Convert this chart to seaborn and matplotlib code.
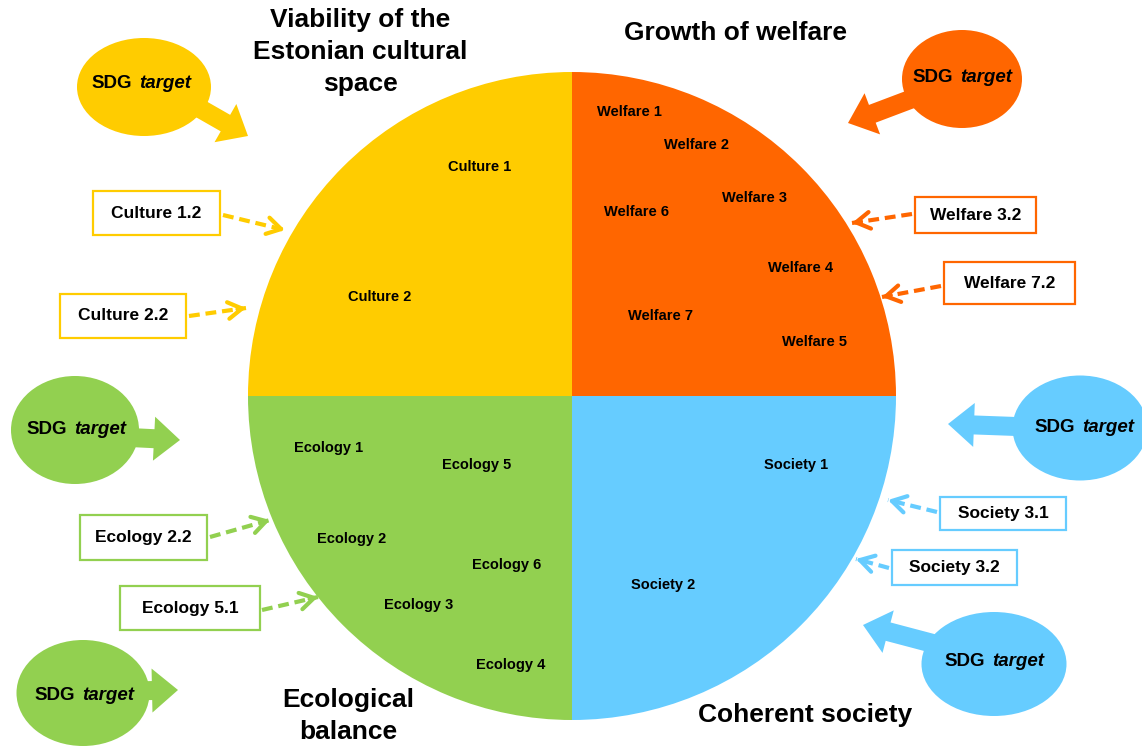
import matplotlib
matplotlib.use("Agg")
import matplotlib.pyplot as plt
import seaborn as sns
from matplotlib.patches import Ellipse, Rectangle

# ---------------- data ----------------
W, H = 1142, 749

quadrants = ["Culture", "Welfare", "Society", "Ecology"]
quadrant_share = [1, 1, 1, 1]
quadrant_colors = ["#FFCC00", "#FF6600", "#66CCFF", "#92D050"]

titles = ["Viability of the\nEstonian cultural\nspace", "Growth of welfare",
          "Coherent society", "Ecological\nbalance"]

culture_items = ["Culture 1", "Culture 2"]
welfare_items = ["Welfare 1", "Welfare 2", "Welfare 3", "Welfare 6",
                 "Welfare 4", "Welfare 7", "Welfare 5"]
society_items = ["Society 1", "Society 2"]
ecology_items = ["Ecology 1", "Ecology 5", "Ecology 2", "Ecology 6",
                 "Ecology 3", "Ecology 4"]

culture_boxes = ["Culture 1.2", "Culture 2.2"]
welfare_boxes = ["Welfare 3.2", "Welfare 7.2"]
society_boxes = ["Society 3.1", "Society 3.2"]
ecology_boxes = ["Ecology 2.2", "Ecology 5.1"]

sdg_word = "SDG"
sdg_italic = "target"

# ---------------- layout (pixel positions) ----------------
center = (572, 396)
radius = 324

title_pos = [(360, 52), (735, 33), (805, 715), (348, 716)]

item_pos = {
    "Culture": [(480, 167), (380, 297)],
    "Welfare": [(629, 112), (696, 145), (754, 198), (637, 212),
                (801, 268), (660, 316), (815, 342)],
    "Society": [(796, 465), (663, 585)],
    "Ecology": [(329, 448), (477, 465), (352, 539), (507, 565),
                (419, 605), (511, 665)],
}

# box: (x0, y0, w, h), dashed arrow start, tip
box_layout = {
    "Culture": [((93, 191, 127, 44), (223, 215), (285, 230)),
                ((60, 294, 126, 44), (189, 316), (246, 308))],
    "Welfare": [((915, 197, 121, 36), (912, 214), (852, 223)),
                ((944, 262, 131, 42), (941, 286), (882, 297))],
    "Society": [((940, 497, 126, 33), (937, 512), (888, 500)),
                ((892, 550, 125, 35), (889, 568), (856, 559))],
    "Ecology": [((80, 515, 127, 45), (210, 537), (270, 520)),
                ((120, 586, 140, 44), (262, 610), (318, 597))],
}

# SDG ellipses: color idx, center, width, height, arrow start, arrow tip, text center
sdg_layout = [
    (0, (144, 87), 134, 98, (185, 100), (248, 136), (137, 84)),
    (1, (962, 79), 120, 98, (930, 92), (848, 123), (958, 77)),
    (3, (75, 430), 128, 108, (120, 437), (180, 440), (72, 430)),
    (3, (83, 693), 133, 106, (130, 691), (178, 690), (80, 695)),
    (2, (1080, 428), 135, 105, (1030, 427), (948, 424), (1080, 428)),
    (2, (994, 664), 145, 104, (950, 648), (863, 625), (990, 661)),
]

# ---------------- drawing ----------------
sns.set_style("white")
plt.rcParams["font.family"] = ["Liberation Sans", "DejaVu Sans"]

fig = plt.figure(figsize=(W / 100, H / 100), dpi=100)
ax = fig.add_axes([0, 0, 1, 1])

# pie: with inverted y-axis angles run clockwise on screen
ax.pie(quadrant_share, colors=quadrant_colors, startangle=180,
       counterclock=True, center=center, radius=radius,
       wedgeprops=dict(linewidth=0), frame=True)

ax.set_xlim(0, W)
ax.set_ylim(H, 0)
ax.set_aspect("equal")
ax.axis("off")

# titles
for t, (x, y) in zip(titles, title_pos):
    ax.text(x, y, t, ha="center", va="center", fontsize=19,
            fontweight="bold", color="black", linespacing=1.4)

# items inside circle
all_items = {"Culture": culture_items, "Welfare": welfare_items,
             "Society": society_items, "Ecology": ecology_items}
for q, items in all_items.items():
    for lab, (x, y) in zip(items, item_pos[q]):
        ax.text(x, y, lab, ha="center", va="center", fontsize=10.5,
                fontweight="bold", color="black")

# boxes with dashed arrows
all_boxes = {"Culture": culture_boxes, "Welfare": welfare_boxes,
             "Society": society_boxes, "Ecology": ecology_boxes}
for q, labs in all_boxes.items():
    col = quadrant_colors[quadrants.index(q)]
    for lab, ((x0, y0, bw, bh), start, tip) in zip(labs, box_layout[q]):
        ax.add_patch(Rectangle((x0, y0), bw, bh, facecolor="white",
                               edgecolor=col, linewidth=1.6, zorder=3))
        ax.text(x0 + bw / 2, y0 + bh / 2, lab, ha="center", va="center",
                fontsize=12.5, fontweight="bold", color="black", zorder=4)
        ax.plot([start[0], tip[0]], [start[1], tip[1]], color=col, lw=3,
                ls=(0, (2.6, 1.4)), solid_capstyle="butt", zorder=3)
        dx, dy = tip[0] - start[0], tip[1] - start[1]
        ax.annotate("", xy=tip, xytext=(tip[0] - 0.15 * dx, tip[1] - 0.15 * dy),
                    arrowprops=dict(arrowstyle="->,head_length=1.0,head_width=0.6",
                                    color=col, lw=3, shrinkA=0, shrinkB=0),
                    zorder=3)

# SDG target ellipses with fat arrows
for ci, c, ew, eh, start, tip, tc in sdg_layout:
    col = quadrant_colors[ci]
    ax.arrow(start[0], start[1], tip[0] - start[0], tip[1] - start[1],
             width=19, head_width=44, head_length=26,
             length_includes_head=True, color=col, lw=0, zorder=2)
    ax.add_patch(Ellipse(c, ew, eh, facecolor=col, edgecolor="none", zorder=2))
    ax.text(tc[0] - 5, tc[1], sdg_word, ha="right", va="center",
            fontsize=13.5, fontweight="bold", color="black", zorder=4)
    ax.text(tc[0] + 2, tc[1], sdg_italic, ha="left", va="center",
            fontsize=13.5, fontweight="bold", fontstyle="italic",
            color="black", zorder=4)

fig.savefig("out.png", dpi=100)
